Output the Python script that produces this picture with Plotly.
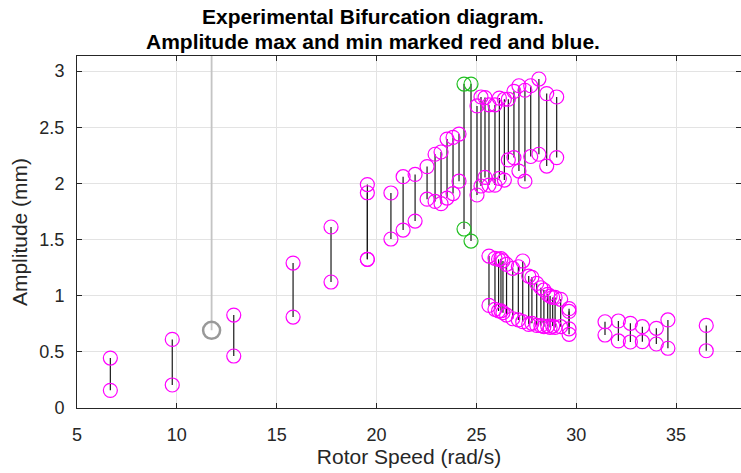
import plotly.graph_objects as go

# ---- data (rad/s, mm) ----
speed = [6.67, 9.77, 12.85, 15.82, 17.72, 19.54, 19.54, 20.72, 21.33, 21.93,
         22.53, 22.93, 23.23, 23.53, 23.83, 24.13,
         25.03, 25.23, 25.43, 25.63, 25.93, 26.15, 26.40, 26.60, 26.88, 27.13,
         27.43, 27.72, 28.13, 28.52, 29.02,
         25.63, 25.93, 26.11, 26.23, 26.33, 26.51, 26.82, 27.10, 27.32, 27.62,
         27.78, 28.02, 28.23, 28.38, 28.57, 28.69, 28.82, 28.94, 29.22, 29.64, 29.64,
         31.44, 32.11, 32.71, 33.31, 34.01, 34.59, 36.51]
amp_max = [0.445, 0.611, 0.828, 1.291, 1.612, 1.99, 1.917, 1.915, 2.06, 2.08,
           2.15, 2.26, 2.28, 2.395, 2.41, 2.44,
           2.69, 2.77, 2.765, 2.70, 2.70, 2.76, 2.75, 2.75, 2.82, 2.87,
           2.83, 2.87, 2.93, 2.80, 2.77,
           1.353, 1.333, 1.324, 1.33, 1.31, 1.28, 1.244, 1.258, 1.309, 1.175,
           1.164, 1.11, 1.071, 1.051, 1.012, 0.997, 0.985, 0.985, 0.968, 0.885, 0.86,
           0.768, 0.775, 0.754, 0.724, 0.710, 0.784, 0.735]
amp_min = [0.157, 0.205, 0.463, 0.810, 1.122, 1.324, 1.324, 1.505, 1.585, 1.665,
           1.86, 1.84, 1.82, 1.87, 1.91, 2.02,
           1.897, 1.977, 2.054, 1.985, 1.985, 2.045, 2.03, 2.21, 2.23, 2.11,
           2.02, 2.24, 2.26, 2.155, 2.23,
           0.914, 0.879, 0.864, 0.866, 0.849, 0.828, 0.795, 0.784, 0.769, 0.745,
           0.754, 0.736, 0.733, 0.724, 0.730, 0.718, 0.730, 0.718, 0.724, 0.705, 0.656,
           0.650, 0.597, 0.588, 0.591, 0.570, 0.532, 0.510]

green_speed = [24.38, 24.73]
green_max = [2.885, 2.885]
green_min = [1.594, 1.487]

gray_speed = [11.74]
gray_max = [3.4]   # off-scale maximum
gray_min = [0.692]

title_lines = ["Experimental Bifurcation diagram.",
               "Amplitude max and min marked red and blue."]
x_title = "Rotor Speed (rad/s)"
y_title = "Amplitude (mm)"
x_ticks = [5, 10, 15, 20, 25, 30, 35]
y_ticks = [0, 0.5, 1, 1.5, 2, 2.5, 3]
y_ticklabels = ["0", "0.5", "1", "1.5", "2", "2.5", "3"]

FONT = "Liberation Sans, Arial, Helvetica, sans-serif"


def segs(xs, lo, hi):
    X, Y = [], []
    for x, a, b in zip(xs, lo, hi):
        X += [x, x, None]
        Y += [a, b, None]
    return X, Y


fig = go.Figure()

# gray run
gx, gy = segs(gray_speed, gray_min, gray_max)
fig.add_trace(go.Scatter(x=gx, y=gy, mode="lines",
                         line=dict(color="#c4c4c4", width=1.8), hoverinfo="skip"))
fig.add_trace(go.Scatter(x=gray_speed, y=gray_min, mode="markers",
                         marker=dict(symbol="circle-open", size=17, color="#999999",
                                     line=dict(width=2.5, color="#999999"))))

# black connecting lines
lx, ly = segs(speed + green_speed, amp_min + green_min, amp_max + green_max)
fig.add_trace(go.Scatter(x=lx, y=ly, mode="lines",
                         line=dict(color="#1a1a1a", width=1.2), hoverinfo="skip"))

# magenta markers
fig.add_trace(go.Scatter(x=speed + speed, y=amp_max + amp_min, mode="markers",
                         marker=dict(symbol="circle-open", size=14, color="#ff00ff",
                                     line=dict(width=1.2, color="#ff00ff"))))
# green markers
fig.add_trace(go.Scatter(x=green_speed + green_speed, y=green_max + green_min, mode="markers",
                         marker=dict(symbol="circle-open", size=14, color="#22c022",
                                     line=dict(width=1.2, color="#22c022"))))

axis_common = dict(
    showline=True, linecolor="#262626", linewidth=1, mirror="ticks",
    ticks="inside", ticklen=5, tickcolor="#262626", tickwidth=1,
    showgrid=True, gridcolor="#e3e3e3", gridwidth=1, zeroline=False,
    tickfont=dict(family=FONT, size=18, color="#262626"),
)

# two-line bold title as annotations above the axes
title_y = [1.1108, 1.0426]
annotations = [
    dict(text="<b>" + t + "</b>", xref="paper", yref="paper",
         x=(373 - 77) / 664, y=yy, xanchor="center", yanchor="middle",
         showarrow=False, font=dict(family=FONT, size=21, color="black"))
    for t, yy in zip(title_lines, title_y)
]

fig.update_layout(
    width=741, height=473,
    margin=dict(l=77, r=0, t=56, b=65),
    paper_bgcolor="white", plot_bgcolor="white",
    showlegend=False,
    annotations=annotations,
    xaxis=dict(range=[5, 38.25], tickvals=x_ticks,
               ticklabelstandoff=10,
               title=dict(text=x_title, standoff=3,
                          font=dict(family=FONT, size=21, color="#262626")),
               **axis_common),
    yaxis=dict(range=[0, 3.135], tickvals=y_ticks, ticktext=y_ticklabels,
               ticklabelstandoff=8,
               title=dict(text=y_title, standoff=6,
                          font=dict(family=FONT, size=21, color="#262626")),
               **axis_common),
)

fig.write_html("out.html")
